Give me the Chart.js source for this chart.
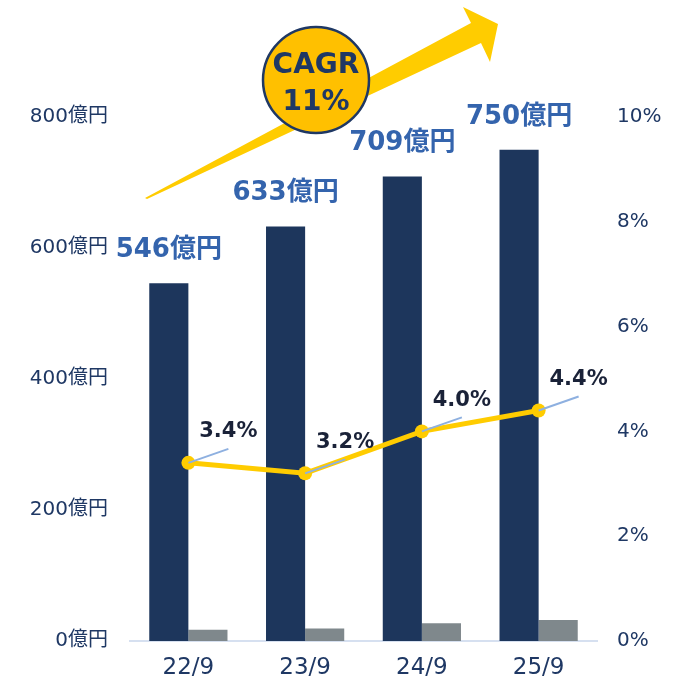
<!DOCTYPE html>
<html>
<head>
<meta charset="utf-8">
<script src="https://cdn.jsdelivr.net/npm/chart.js@4"></script>
<style>
  html, body { margin: 0; padding: 0; background: #fff; }
  #wrap { width: 692px; height: 688px; }
</style>
</head>
<body>
<div id="wrap"><canvas id="salesChart"></canvas></div>
<script>
const categories = ['22/9', '23/9', '24/9', '25/9'];
const salesValues = [546, 633, 709, 750];      // 億円
const subValues = [17, 19, 27, 32];            // 億円 (grey bars)
const ratioValues = [3.4, 3.2, 4.0, 4.4];      // %
const cagrText = ['CAGR', '11%'];

const FONT = "'DejaVu Sans', 'Noto Sans CJK JP', sans-serif";
const NAVY = '#1f3864';

// value labels, leader lines, growth arrow and CAGR badge
const decorations = {
  id: 'decorations',
  afterDatasetsDraw(chart) {
    const ctx = chart.ctx;
    const a = chart.chartArea;
    ctx.save();

    // growth arrow
    const L = a.left, T = a.top;
    const pts = [[15, 81], [341, -94], [333, -110], [368, -93], [360, -55], [351, -74], [17, 82]];
    ctx.fillStyle = '#ffcc00';
    ctx.beginPath();
    pts.forEach((p, i) => i ? ctx.lineTo(L + p[0], T + p[1]) : ctx.moveTo(L + p[0], T + p[1]));
    ctx.closePath();
    ctx.fill();

    // CAGR badge
    const cx = L + 186, cy = T - 37;
    ctx.beginPath();
    ctx.arc(cx, cy, 53, 0, Math.PI * 2);
    ctx.fillStyle = '#ffc000';
    ctx.fill();
    ctx.lineWidth = 2.5;
    ctx.strokeStyle = NAVY;
    ctx.stroke();
    ctx.fillStyle = NAVY;
    ctx.textAlign = 'center';
    ctx.textBaseline = 'middle';
    ctx.font = 'bold 28px ' + FONT;
    ctx.fillText(cagrText[0], cx, cy - 14);
    ctx.fillText(cagrText[1], cx, cy + 23);

    // bar value labels
    const barMeta = chart.getDatasetMeta(0);
    ctx.font = 'bold 26px ' + FONT;
    ctx.fillStyle = '#3464ad';
    barMeta.data.forEach((bar, i) => {
      ctx.fillText(salesValues[i] + '億円', bar.x, bar.y - 33);
    });

    // ratio leader lines + labels
    const lineMeta = chart.getDatasetMeta(2);
    lineMeta.data.forEach((pt, i) => {
      ctx.beginPath();
      ctx.moveTo(pt.x, pt.y);
      ctx.lineTo(pt.x + 40, pt.y - 14);
      ctx.lineWidth = 2;
      ctx.strokeStyle = '#8eb0e0';
      ctx.stroke();
      ctx.font = 'bold 21px ' + FONT;
      ctx.fillStyle = '#1a2238';
      ctx.fillText(ratioValues[i].toFixed(1) + '%', pt.x + 40, pt.y - 31);
    });

    ctx.restore();
  }
};

const chart = new Chart(document.getElementById('salesChart'), {
  type: 'bar',
  data: {
    labels: categories,
    datasets: [
      {
        label: '売上高',
        data: salesValues,
        backgroundColor: '#1d365c',
        yAxisID: 'yLeft',
        order: 2,
      },
      {
        label: 'サブ',
        data: subValues,
        backgroundColor: '#7f888c',
        yAxisID: 'yLeft',
        order: 2,
      },
      {
        type: 'line',
        label: '比率',
        data: ratioValues,
        borderColor: '#ffcc00',
        backgroundColor: '#ffcc00',
        borderWidth: 5,
        pointRadius: 7,
        pointHoverRadius: 7,
        pointBorderWidth: 0,
        yAxisID: 'yRight',
        order: 1,
      },
    ],
  },
  options: {
    responsive: true,
    maintainAspectRatio: false,
    animation: false,
    layout: { padding: { top: 117, left: 0, right: 0, bottom: 0 } },
    plugins: {
      legend: { display: false },
      tooltip: { enabled: false },
    },
    datasets: {
      bar: { barPercentage: 1, categoryPercentage: 0.67 },
    },
    scales: {
      x: {
        grid: { display: false, drawTicks: false },
        border: { display: true, color: '#d6e0f0', width: 2 },
        ticks: { color: NAVY, font: { family: FONT, size: 23 }, padding: 13 },
        afterFit(scale) { scale.height = 47; },
      },
      yLeft: {
        type: 'linear',
        position: 'left',
        min: 0,
        max: 800,
        grid: { display: false, drawTicks: false },
        border: { display: false },
        ticks: {
          stepSize: 200,
          padding: 22,
          color: NAVY,
          font: { family: FONT, size: 20 },
          callback: (v) => v + '億円',
        },
        afterFit(scale) { scale.width = 130; },
      },
      yRight: {
        type: 'linear',
        position: 'right',
        min: 0,
        max: 10,
        grid: { display: false, drawTicks: false },
        border: { display: false },
        ticks: {
          stepSize: 2,
          padding: 20,
          color: NAVY,
          font: { family: FONT, size: 20 },
          callback: (v) => v + '%',
        },
        afterFit(scale) { scale.width = 95; },
      },
    },
  },
  plugins: [decorations],
});
</script>
</body>
</html>
